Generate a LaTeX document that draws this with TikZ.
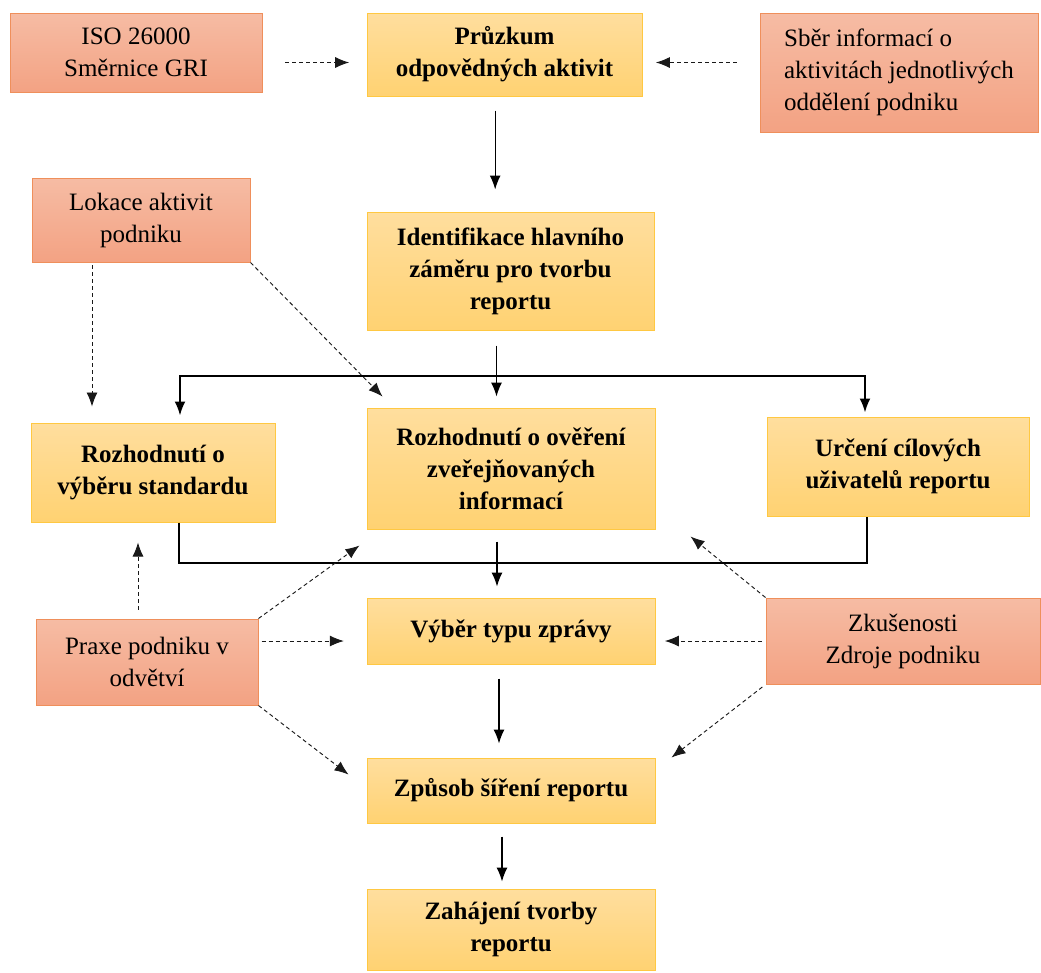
\documentclass[tikz,border=0pt]{standalone}
\usepackage{fontspec}
\setmainfont{Liberation Serif}
\usetikzlibrary{arrows.meta}

\definecolor{ytop}{HTML}{FFDE9E}
\definecolor{ybot}{HTML}{FFD272}
\definecolor{yline}{HTML}{FFC842}
\definecolor{stop}{HTML}{F6BCA4}
\definecolor{sbot}{HTML}{F3A283}
\definecolor{sline}{HTML}{EF8F5B}

\tikzset{
  ybox/.style={draw=yline, line width=0.75pt, top color=ytop, bottom color=ybot,
    inner sep=0pt, align=center, font=\fontsize{18.75pt}{24pt}\selectfont\bfseries},
  sbox/.style={draw=sline, line width=0.75pt, top color=stop, bottom color=sbot,
    inner sep=0pt, align=center, font=\fontsize{18.75pt}{24pt}\selectfont},
  flow/.style={-{Latex[length=10.5pt,width=8.25pt]}, line width=0.9pt},
  bline/.style={line width=1.5pt},
  dep/.style={-{Latex[length=10.5pt,width=8.25pt]}, dash pattern=on 3pt off 2.25pt, line width=0.7pt, black!90}
}

\begin{document}
\begin{tikzpicture}[x=0.75pt,y=0.75pt,yscale=-1,xscale=1]
\useasboundingbox (0,0) rectangle (1041,972);

% Boxes, top row
\node [sbox, minimum width=189pt, minimum height=59.25pt] (iso) at (136,52.5) {ISO 26000\\Směrnice GRI};
\node [ybox, minimum width=206.25pt, minimum height=62.25pt] (prz) at (504.5,54.5) {Průzkum\\odpovědných aktivit};
\node [sbox, minimum width=208.5pt, minimum height=89.25pt, align=left] (sber) at (899,72.5) {Sběr informací o\\aktivitách jednotlivých\\oddělení podniku};

% Boxes, second row
\node [sbox, minimum width=163.5pt, minimum height=63pt] (lok) at (141,220) {Lokace aktivit\\podniku};
\node [ybox, minimum width=215.25pt, minimum height=88.5pt] (ident) at (510.5,271) {Identifikace hlavního\\záměru pro tvorbu\\reportu};

% Boxes, decisions
\node [ybox, minimum width=183pt, minimum height=74.25pt] (roz1) at (153,472.5) {Rozhodnutí o\\výběru standardu};
\node [ybox, minimum width=216pt, minimum height=90.75pt] (roz2) at (511,468.5) {Rozhodnutí o ověření\\zveřejňovaných\\informací};
\node [ybox, minimum width=196.5pt, minimum height=74.25pt] (urc) at (898,466.5) {Určení cílových\\uživatelů reportu};

% Boxes, lower part
\node [ybox, minimum width=216pt, minimum height=49.5pt] (vyb) at (511,631) {Výběr typu zprávy};
\node [sbox, minimum width=166.5pt, minimum height=64.5pt] (praxe) at (147,662) {Praxe podniku v\\odvětví};
\node [sbox, minimum width=205.5pt, minimum height=64.5pt] (zkus) at (903,641) {Zkušenosti\\Zdroje podniku};
\node [ybox, minimum width=216pt, minimum height=48.75pt] (zpus) at (511,790.5) {Způsob šíření reportu};
\node [ybox, minimum width=216pt, minimum height=60.75pt] (zah) at (511,929.5) {Zahájení tvorby\\reportu};

% Main flow
\draw [flow, shorten <=10.5pt, shorten >=16.5pt] ([xshift=-7pt]prz.south) -- ([xshift=-7pt]prz.south |- ident.north);
\draw [flow, shorten <=11.25pt, shorten >=8.25pt] ([xshift=-10.5pt]ident.south) -- ([xshift=-10.5pt]ident.south |- roz2.north);
\draw [flow, shorten <=9pt, shorten >=8.25pt] ([xshift=-10.5pt]roz2.south) -- ([xshift=-10.5pt]roz2.south |- vyb.north);
\draw [flow, shorten <=10.5pt, shorten >=10.5pt] ([xshift=-9pt]vyb.south) -- ([xshift=-9pt]vyb.south |- zpus.north);
\draw [flow, shorten <=9.75pt, shorten >=5.25pt] ([xshift=-6.75pt]zpus.south) -- ([xshift=-6.75pt]zpus.south |- zah.north);

% Branching lines
\coordinate (split) at (497,376);
\coordinate (join) at (497,563);
\draw [bline, -{Latex[length=10.5pt,width=8.25pt]}, shorten >=5.25pt] (split) -| ([xshift=20.25pt]roz1.north);
\draw [bline, -{Latex[length=10.5pt,width=8.25pt]}, shorten >=3pt] (split) -| ([xshift=-24.75pt]urc.north);
\draw [bline] ([xshift=19.5pt]roz1.south) |- (join) -| ([xshift=-23.25pt]urc.south);

% Inputs (dashed)
\draw [dep, shorten <=17pt, shorten >=13pt] ([yshift=7.5pt]iso.east) -- ([yshift=7.5pt]iso.east -| prz.west);
\draw [dep, shorten <=17pt, shorten >=10pt] ([yshift=6pt]sber.west |- prz.east) -- ([yshift=6pt]prz.east);
\draw [dep, shorten <=2pt, shorten >=12pt] ([xshift=-36.75pt]lok.south) -- ([xshift=-36.75pt]lok.south |- roz1.north);
\draw [dep] (lok.south east) -- ([xshift=12pt,yshift=-8.25pt]roz2.north west);
\draw [dep, shorten <=6.75pt, shorten >=15pt] ([xshift=-6.75pt]praxe.north) -- ([xshift=-6.75pt]praxe.north |- roz1.south);
\draw [dep] (praxe.north east) -- ([xshift=-5.25pt,yshift=12pt]roz2.south west);
\draw [dep, shorten <=2.25pt, shorten >=17pt] ([yshift=-15.75pt]praxe.east) -- ([yshift=-15.75pt]praxe.east -| vyb.west);
\draw [dep] (praxe.south east) -- ([xshift=-13.5pt,yshift=12.75pt]zpus.north west);
\draw [dep, shorten <=3pt, shorten >=7pt] (zkus.west) -- (zkus.west -| vyb.east);
\draw [dep] (zkus.north west) -- ([xshift=26.25pt,yshift=5.25pt]roz2.south east);
\draw [dep, shorten <=3pt] (zkus.south west) -- ([xshift=12pt]zpus.north east);

\end{tikzpicture}
\end{document}
